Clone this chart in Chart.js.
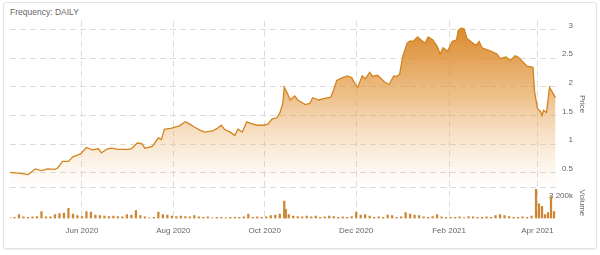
<!DOCTYPE html>
<html>
<head>
<meta charset="utf-8">
<script src="https://cdn.jsdelivr.net/npm/chart.js@4/dist/chart.umd.min.js"></script>
<style>
  html, body { margin: 0; padding: 0; background: #fff; }
  #wrap { position: relative; width: 600px; height: 255px; }
  #card { position: absolute; left: 3px; top: 2px; width: 594px; height: 247px; box-sizing: border-box;
          border: 1px solid #e2e2e2; border-radius: 3px; box-shadow: 0 1px 2px rgba(0,0,0,0.06); }
  #freq { position: absolute; left: 10px; top: 7px; font: 8.5px 'Liberation Sans', Arial, sans-serif; color: #666; }
  canvas { position: absolute; left: 0; top: 0; }
</style>
</head>
<body>
<div id="wrap">
  <div id="card"></div>
  <div id="freq">Frequency: DAILY</div>
  <canvas id="chart" width="600" height="255"></canvas>
</div>
<script>
// price (close), daily chart
const priceDates = [
  '2020-04-14','2020-04-21','2020-04-26','2020-05-01','2020-05-05','2020-05-09','2020-05-14','2020-05-16',
  '2020-05-19','2020-05-23','2020-05-26','2020-05-31','2020-06-04','2020-06-06','2020-06-08','2020-06-12',
  '2020-06-14','2020-06-18','2020-06-21','2020-06-25','2020-07-02','2020-07-04','2020-07-08','2020-07-11',
  '2020-07-13','2020-07-18','2020-07-22','2020-07-24','2020-07-26','2020-07-31','2020-08-05','2020-08-09',
  '2020-08-12','2020-08-15','2020-08-19','2020-08-22','2020-08-27','2020-08-30','2020-09-02','2020-09-04',
  '2020-09-08','2020-09-11','2020-09-13','2020-09-16','2020-09-19','2020-09-23','2020-09-26','2020-09-30',
  '2020-10-03','2020-10-06','2020-10-09','2020-10-11','2020-10-13','2020-10-14','2020-10-16','2020-10-18',
  '2020-10-21','2020-10-23','2020-10-28','2020-10-31','2020-11-02','2020-11-06','2020-11-10','2020-11-14',
  '2020-11-16','2020-11-18','2020-11-22','2020-11-25','2020-11-28','2020-11-30','2020-12-02','2020-12-05',
  '2020-12-07','2020-12-10','2020-12-12','2020-12-15','2020-12-17','2020-12-20','2020-12-23','2020-12-26',
  '2020-12-28','2020-12-30','2021-01-01','2021-01-04','2021-01-06','2021-01-08','2021-01-11','2021-01-14',
  '2021-01-16','2021-01-18','2021-01-21','2021-01-24','2021-01-26','2021-01-28','2021-01-31','2021-02-03',
  '2021-02-06','2021-02-07','2021-02-09','2021-02-11','2021-02-13','2021-02-17','2021-02-19','2021-02-21',
  '2021-02-23','2021-02-28','2021-03-05','2021-03-07','2021-03-11','2021-03-14','2021-03-17','2021-03-19',
  '2021-03-22','2021-03-25','2021-03-29','2021-03-30','2021-04-01','2021-04-03','2021-04-04','2021-04-05',
  '2021-04-07','2021-04-09','2021-04-13'
];
const priceValues = [
  0.51,0.49,0.47,0.57,0.54,0.57,0.56,0.59,
  0.70,0.70,0.78,0.83,0.94,0.92,0.90,0.92,
  0.85,0.92,0.93,0.91,0.91,0.92,1.02,1.01,
  0.93,0.96,1.11,1.08,1.26,1.28,1.32,1.39,
  1.35,1.30,1.24,1.21,1.23,1.27,1.33,1.26,
  1.21,1.15,1.26,1.21,1.39,1.35,1.33,1.33,
  1.35,1.44,1.46,1.54,1.70,1.99,1.89,1.77,
  1.84,1.77,1.69,1.71,1.81,1.77,1.80,1.82,
  1.95,2.11,2.16,2.19,2.16,2.06,1.99,2.19,
  2.14,2.25,2.18,2.20,2.16,2.08,2.04,2.19,
  2.18,2.22,2.52,2.76,2.80,2.79,2.87,2.80,
  2.76,2.87,2.82,2.71,2.57,2.68,2.62,2.79,
  2.82,2.98,3.02,3.01,2.84,2.76,2.72,2.79,
  2.68,2.63,2.57,2.49,2.52,2.46,2.54,2.52,
  2.44,2.36,2.34,1.92,1.62,1.57,1.50,1.59,
  1.55,1.99,1.81
];

// volume in thousands
const volumeDates = [
  '2020-04-14','2020-04-17','2020-04-20','2020-04-23','2020-04-26','2020-04-29','2020-05-02','2020-05-05',
  '2020-05-08','2020-05-11','2020-05-14','2020-05-17','2020-05-20','2020-05-23','2020-05-26','2020-05-29',
  '2020-06-01','2020-06-04','2020-06-07','2020-06-10','2020-06-13','2020-06-16','2020-06-19','2020-06-22',
  '2020-06-25','2020-06-28','2020-07-01','2020-07-04','2020-07-07','2020-07-10','2020-07-13','2020-07-16',
  '2020-07-19','2020-07-22','2020-07-25','2020-07-28','2020-07-31','2020-08-03','2020-08-06','2020-08-09',
  '2020-08-12','2020-08-15','2020-08-18','2020-08-21','2020-08-24','2020-08-27','2020-08-30','2020-09-02',
  '2020-09-05','2020-09-08','2020-09-11','2020-09-14','2020-09-17','2020-09-20','2020-09-23','2020-09-26',
  '2020-09-29','2020-10-02','2020-10-05','2020-10-08','2020-10-11','2020-10-14','2020-10-15','2020-10-17',
  '2020-10-20','2020-10-23','2020-10-26','2020-10-29','2020-11-01','2020-11-04','2020-11-07','2020-11-10',
  '2020-11-13','2020-11-16','2020-11-19','2020-11-22','2020-11-25','2020-11-28','2020-12-01','2020-12-04',
  '2020-12-07','2020-12-10','2020-12-13','2020-12-16','2020-12-19','2020-12-22','2020-12-25','2020-12-28',
  '2020-12-31','2021-01-03','2021-01-06','2021-01-09','2021-01-12','2021-01-15','2021-01-18','2021-01-21',
  '2021-01-24','2021-01-27','2021-01-30','2021-02-02','2021-02-05','2021-02-08','2021-02-11','2021-02-14',
  '2021-02-17','2021-02-20','2021-02-23','2021-02-26','2021-03-01','2021-03-04','2021-03-07','2021-03-10',
  '2021-03-13','2021-03-16','2021-03-19','2021-03-22','2021-03-25','2021-03-28','2021-03-31','2021-04-02',
  '2021-04-04','2021-04-06','2021-04-08','2021-04-10','2021-04-12'
];
const volumeValues = [
  50,100,400,150,100,150,200,700,
  150,150,400,500,550,1050,450,300,
  200,700,650,350,300,250,200,250,
  200,150,400,350,800,300,150,50,
  100,650,400,350,250,200,250,200,
  150,300,150,100,150,50,100,100,
  50,100,100,100,150,450,100,150,
  100,150,300,350,450,1800,950,400,
  250,200,150,250,150,250,100,150,
  250,200,100,150,100,200,650,350,
  400,250,100,150,100,350,300,100,
  150,600,450,350,300,150,100,200,
  400,150,100,100,100,150,50,200,
  150,100,100,150,100,300,400,300,
  200,100,100,150,100,250,3000,1500,
  1250,400,600,2250,700
];

const tickDates = ['2020-06-01','2020-08-01','2020-10-01','2020-12-01','2021-02-01','2021-04-01'];
const tickLabels = ['Jun 2020','Aug 2020','Oct 2020','Dec 2020','Feb 2021','Apr 2021'];
const priceTicks = [0.5, 1, 1.5, 2, 2.5, 3];
const volumeTicks = [3200];

const toDay = s => Date.parse(s) / 86400000;
const tickDays = tickDates.map(toDay);

Chart.defaults.font.family = "'Liberation Sans', Arial, sans-serif";
Chart.defaults.font.size = 8;
Chart.defaults.color = '#666';

const orange = '#d4841f';
const gridColor = '#dcdcdc';
const priceWeight = 178;
const volumeWeight = 33;

// axis that only carries a title, stacked beside the label column
function titleAxis(text, weight, stackWeight) {
  return {
    position: 'right', stack: 'titles', weight: weight, stackWeight: stackWeight,
    min: 0, max: 1,
    afterFit: axis => { axis.width = 18; },
    ticks: { display: false },
    grid: { display: false, drawTicks: false },
    border: { display: false },
    title: { display: true, text: text, padding: { top: 4, bottom: 4 } }
  };
}

new Chart(document.getElementById('chart'), {
  data: {
    datasets: [{
      type: 'line',
      label: 'Price',
      yAxisID: 'y',
      data: priceDates.map((d, i) => ({ x: toDay(d), y: priceValues[i] })),
      borderColor: orange,
      borderWidth: 1.3,
      pointRadius: 0,
      tension: 0,
      fill: 'start',
      backgroundColor: function (ctx) {
        const chart = ctx.chart;
        const y = chart.scales.y;
        if (!chart.chartArea || !y) return 'rgba(217,132,35,0.5)';
        const g = chart.ctx.createLinearGradient(0, y.top, 0, y.bottom);
        g.addColorStop(0, 'rgba(214,128,28,0.98)');
        g.addColorStop(0.45, 'rgba(226,150,60,0.6)');
        g.addColorStop(1, 'rgba(240,190,130,0.0)');
        return g;
      }
    }, {
      type: 'bar',
      label: 'Volume',
      yAxisID: 'yv',
      data: volumeDates.map((d, i) => ({ x: toDay(d), y: volumeValues[i] })),
      backgroundColor: '#cf8632',
      barThickness: 1.6
    }]
  },
  options: {
    responsive: false,
    animation: false,
    layout: { padding: { left: 10, right: 9, top: 15, bottom: 11 } },
    plugins: { legend: { display: false }, tooltip: { enabled: false } },
    scales: {
      x: {
        type: 'linear',
        offset: false,
        min: toDay('2020-04-14'),
        max: toDay('2021-04-14'),
        afterBuildTicks: axis => { axis.ticks = tickDays.map(v => ({ value: v })); },
        ticks: {
          autoSkip: false, maxRotation: 0, padding: 8,
          callback: v => tickLabels[tickDays.indexOf(v)]
        },
        grid: { color: gridColor, drawTicks: false, offset: false },
        border: { display: false, dash: [6, 4] }
      },
      y: {
        position: 'right',
        stack: 'panels',
        stackWeight: priceWeight,
        weight: 0,
        min: 0.245,
        max: 3.15,
        afterBuildTicks: axis => { axis.ticks = priceTicks.map(v => ({ value: v })); },
        afterFit: axis => { axis.width = 16; },
        ticks: { padding: 4, crossAlign: 'far', labelOffset: -4, callback: v => String(v) },
        grid: { color: gridColor, drawTicks: false },
        border: { display: false, dash: [6, 4] }
      },
      yv: {
        position: 'right',
        stack: 'panels',
        stackWeight: volumeWeight,
        weight: 1,
        min: 0,
        max: 3200,
        afterBuildTicks: axis => { axis.ticks = volumeTicks.map(v => ({ value: v })); },
        afterFit: axis => { axis.width = 16; },
        ticks: {
          mirror: true, padding: 16, crossAlign: 'near', labelOffset: 8,
          callback: v => String(v).replace(/\B(?=(\d{3})+$)/g, ' ') + 'k'
        },
        grid: { color: gridColor, drawTicks: false },
        border: { display: false, dash: [6, 4] }
      },
      yTitle: titleAxis('Price', 2, priceWeight),
      yvTitle: titleAxis('Volume', 3, volumeWeight)
    }
  }
});
</script>
</body>
</html>
